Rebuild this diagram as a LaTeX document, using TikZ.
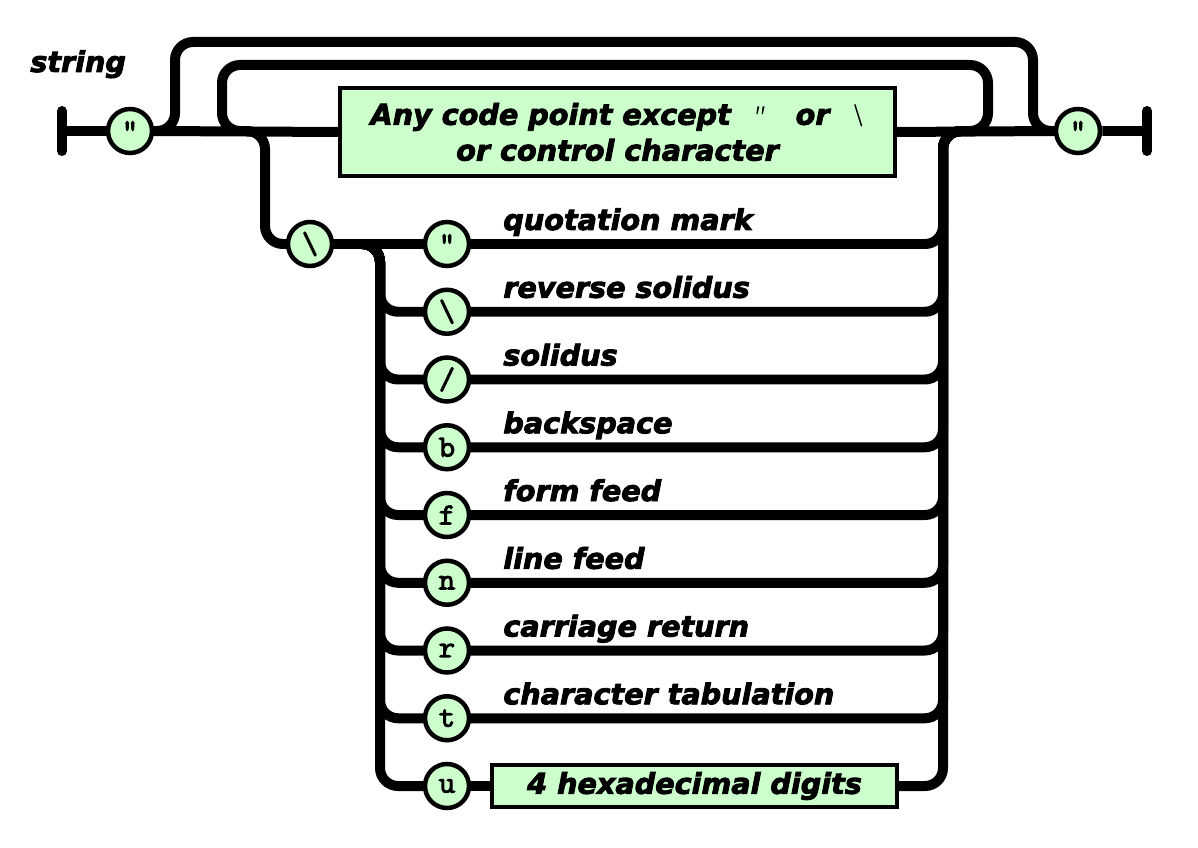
\documentclass[tikz,border=0pt]{standalone}
\usepackage{fontspec}
\setmainfont{DejaVu Sans}[BoldItalicFeatures={FakeBold=3}]
\newfontfamily\railmono{Latin Modern Mono}[BoldFont={Latin Modern Mono Light},BoldFeatures={FakeBold=5}]
\usepackage{tikz}
\usetikzlibrary{positioning,calc,backgrounds}
\definecolor{railgreen}{RGB}{204,255,204}

\begin{document}
\begin{tikzpicture}[x=0.02cm,y=-0.02cm,
    rail/.style={line width=0.2cm, rounded corners=0.36cm},
    bar/.style={line width=0.2cm, line cap=round},
    tok/.style={circle, draw, line width=0.09cm, fill=railgreen, minimum size=0.88cm, inner sep=0pt,
        font=\railmono\bfseries\fontsize{17}{17}\selectfont},
    term/.style={rectangle, draw, line width=0.08cm, fill=railgreen, inner sep=0pt, align=center,
        font=\bfseries\itshape\fontsize{16.3}{20.4}\selectfont},
    lbl/.style={anchor=base west, inner sep=0pt, font=\bfseries\itshape\fontsize{16.3}{20}\selectfont}]
\useasboundingbox (0,0) rectangle (1198,848);

\node[lbl] (title) at (30,72) {string};

% tokens on the main line
\coordinate (st) at (62,131);
\coordinate (en) at (1147,131);
\node[tok] (q1) at (130,131) {"};
\node[tok] (q2) at (1078,131) {"};
\node[term, minimum width=11.1cm, minimum height=1.76cm] (anyc) at (617.5,132)
    {Any code point except\ \ {\railmono"}\ \ \ or\ \ {\railmono\textbackslash}\\or control character};
\node[tok] (bs) at (310,244) {\textbackslash};

% escapes
\foreach \i/\ch/\txt [evaluate=\i as \y using 244+(\i-1)*67.75] in
    {1/"/quotation mark, 2/\textbackslash/reverse solidus, 3/{/}/solidus, 4/b/backspace,
     5/f/form feed, 6/n/line feed, 7/r/carriage return, 8/t/character tabulation}{
    \node[tok] (r\i) at (447,\y) {\ch};
    \node[lbl] (l\i) at ($(r\i)+(56,-14)$) {\txt};
}
\node[tok] (r9) at (447,786) {u};
\node[term, minimum width=8.1cm, minimum height=0.86cm] (hex) at (694.5,786) {4 hexadecimal digits};

% bend points
\coordinate (ol) at (175,42);
\coordinate (or) at (1033,42);
\coordinate (il) at (222,65);
\coordinate (ir) at (988,65);
\coordinate (jl) at (250,131);
\coordinate (jr) at (960,131);
\coordinate (ea) at (232,131);
\coordinate (ev) at (265,244);
\coordinate (lcol) at (380,244);
\coordinate (rcol) at (943,131);
\coordinate (rj) at (975,131);

\begin{scope}[on background layer]
\draw[bar] (st) ++(0,-20) -- ++(0,40);
\draw[bar] (en) ++(0,-20) -- ++(0,40);
\draw[rail] (st) -- (q1.west) (q1.east) -- (anyc.west) (anyc.east) -- (q2.west) (q2.east) -- (en);
\draw[rail] (q1.east) -| (ol) -- (or) |- (q2.west);
\draw[rail] (jr) -| (ir) -- (il) |- (jl);
\draw[rail] (ea) -| (ev) -- (bs.west);
\draw[rail] (bs.east) -- (r1.west);
\foreach \i in {2,...,9}
    \draw[rail] (bs.east) -- (lcol) |- (r\i.west);
\foreach \i in {1,...,8}
    \draw[rail] (r\i.east) -| (rcol) -- (rj);
\draw[rail] (r9.east) -- (hex.west);
\draw[rail] (hex.east) -| (rcol) -- (rj);
\end{scope}
\end{tikzpicture}
\end{document}
